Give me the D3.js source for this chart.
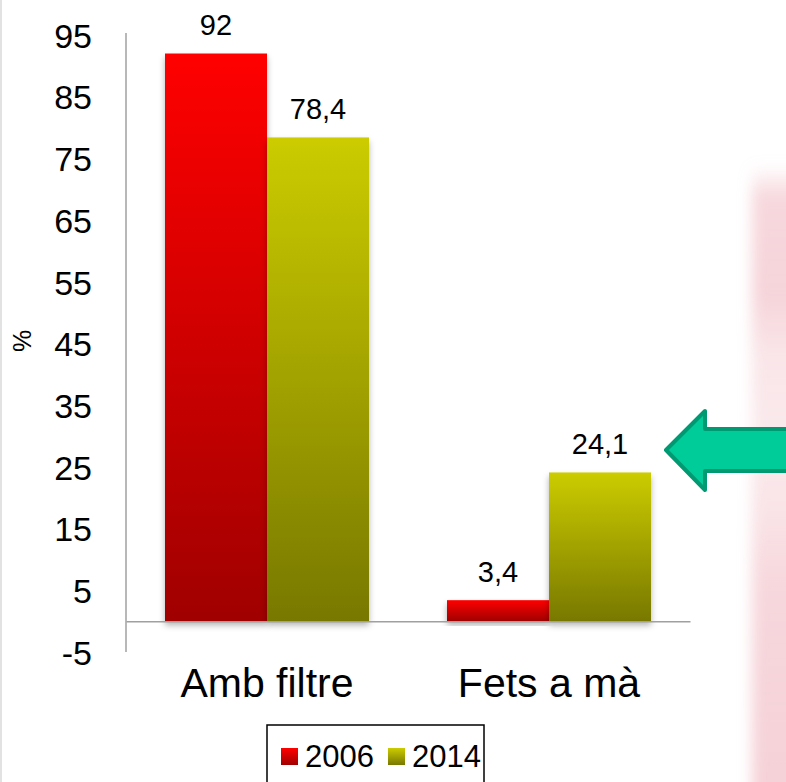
<!DOCTYPE html>
<html><head><meta charset="utf-8">
<script src="https://cdn.jsdelivr.net/npm/d3@7"></script>
<style>body{margin:0;background:#fff}svg{display:block;font-family:"Liberation Sans",Arial,sans-serif}</style>
</head><body>
<svg id="c" width="786" height="782"></svg>
<script>
const categories = ["Amb filtre", "Fets a mà"];
const seriesNames = ["2006", "2014"];
const values2006 = [92, 3.4];
const values2014 = [78.4, 24.1];
const yTicks = [-5, 5, 15, 25, 35, 45, 55, 65, 75, 85, 95];
const labels2006 = ["92", "3,4"];
const labels2014 = ["78,4", "24,1"];

const svg = d3.select("#c");
const defs = svg.append("defs");
const grads = [["g2006", "#ff0000", "#a00000"], ["g2014", "#cccc00", "#787800"]];
grads.forEach(([id, top, bot]) => {
  const g = defs.append("linearGradient").attr("id", id).attr("x1", 0).attr("y1", 0).attr("x2", 0).attr("y2", 1);
  g.append("stop").attr("offset", "0%").attr("stop-color", top);
  g.append("stop").attr("offset", "100%").attr("stop-color", bot);
});
const sh = defs.append("filter").attr("id", "sh").attr("x", "-10%").attr("y", "-10%").attr("width", "120%").attr("height", "130%");
sh.append("feDropShadow").attr("dx", 0).attr("dy", 4).attr("stdDeviation", 3).attr("flood-color", "#000").attr("flood-opacity", 0.3);
const bl = defs.append("filter").attr("id", "bl").attr("x", "-50%").attr("y", "-20%").attr("width", "200%").attr("height", "140%");
bl.append("feGaussianBlur").attr("stdDeviation", 7);
const pg = defs.append("linearGradient").attr("id", "pink").attr("x1", 0).attr("y1", 0).attr("x2", 0).attr("y2", 1);
[[0, 0.0], [0.05, 0.55], [0.2, 0.6], [0.3, 0.35], [0.45, 0.3], [0.55, 0.4], [0.65, 0.55], [0.8, 0.6], [1, 0.65]]
  .forEach(([o, a]) => pg.append("stop").attr("offset", o).attr("stop-color", "#f0b8c1").attr("stop-opacity", a));

// pink blurred decoration on right
svg.append("rect").attr("x", 752).attr("y", 165).attr("width", 70).attr("height", 640)
  .attr("fill", "url(#pink)").attr("filter", "url(#bl)");

// left faint border
svg.append("line").attr("x1", 1).attr("x2", 1).attr("y1", 0).attr("y2", 782).attr("stroke", "#e2e2e2").attr("stroke-width", 2);

const x0 = d3.scaleBand().domain(categories).range([126, 690]).paddingInner(0).paddingOuter(0);
const y = d3.scaleLinear().domain([-5, 95]).range([652, 35]);
const barW = 102;

// axes
const yAxis = d3.axisLeft(y).tickValues(yTicks).tickSize(0).tickPadding(34).tickFormat(d => String(d));
const ya = svg.append("g").attr("transform", "translate(126,0)").call(yAxis)
  .attr("font-size", null).attr("font-family", null);
ya.select(".domain").attr("stroke", "#a0a0a0").attr("stroke-width", 1.5).attr("d", `M0,${y(95) - 2}V${y(-5)}`);
ya.selectAll("text").style("font-size", "34px").attr("fill", "#000").attr("dy", "0.36em");

const data = categories.map((c, i) => ({c, v: [values2006[i], values2014[i]], l: [labels2006[i], labels2014[i]]}));
const g = svg.append("g");
data.forEach(d => {
  const cx = x0(d.c) + x0.bandwidth() / 2;
  [0, 1].forEach(k => {
    const xl = cx - barW + k * barW;
    g.append("rect").attr("x", xl).attr("width", barW)
      .attr("y", y(d.v[k])).attr("height", y(0) - y(d.v[k]))
      .attr("fill", `url(#g${seriesNames[k]})`).attr("filter", "url(#sh)");
    svg.append("text").attr("x", xl + barW / 2).attr("y", y(d.v[k]) - 18.5)
      .attr("text-anchor", "middle").style("font-size", "29px").attr("fill", "#000").text(d.l[k]);
  });
});

// x axis line at zero
const xAxis = d3.axisBottom(x0).tickSize(0).tickPadding(0).tickFormat(() => "");
const xa = svg.append("g").attr("transform", `translate(0,${y(0)})`).call(xAxis);
xa.select(".domain").attr("stroke", "#a0a0a0").attr("stroke-width", 1.5);
categories.forEach(c => {
  svg.append("text").attr("x", x0(c) + x0.bandwidth() / 2).attr("y", 697)
    .attr("text-anchor", "middle").style("font-size", "41px").attr("fill", "#000").text(c);
});

// y title
svg.append("text").attr("transform", "translate(31,341) rotate(-90)").attr("text-anchor", "middle")
  .style("font-size", "25px").attr("fill", "#000").text("%");

// legend
const lg = svg.append("g");
lg.append("rect").attr("x", 267).attr("y", 725).attr("width", 217).attr("height", 70).attr("fill", "#fff").attr("stroke", "#000").attr("stroke-width", 1.5);
const lx = [281, 388];
seriesNames.forEach((s, i) => {
  lg.append("rect").attr("x", lx[i]).attr("y", 748).attr("width", 17).attr("height", 17).attr("fill", `url(#g${s})`);
  lg.append("text").attr("x", lx[i] + 24).attr("y", 767).style("font-size", "31px").attr("fill", "#000").text(s);
});

// arrow
const arrowPts = [[666, 450], [705, 411], [705, 429], [800, 429], [800, 471], [705, 471], [705, 490]];
svg.append("path").attr("d", d3.line()(arrowPts) + "Z").attr("fill", "#00cc99").attr("stroke", "#009a72").attr("stroke-width", 4).attr("stroke-linejoin", "round");
</script>
</body></html>
